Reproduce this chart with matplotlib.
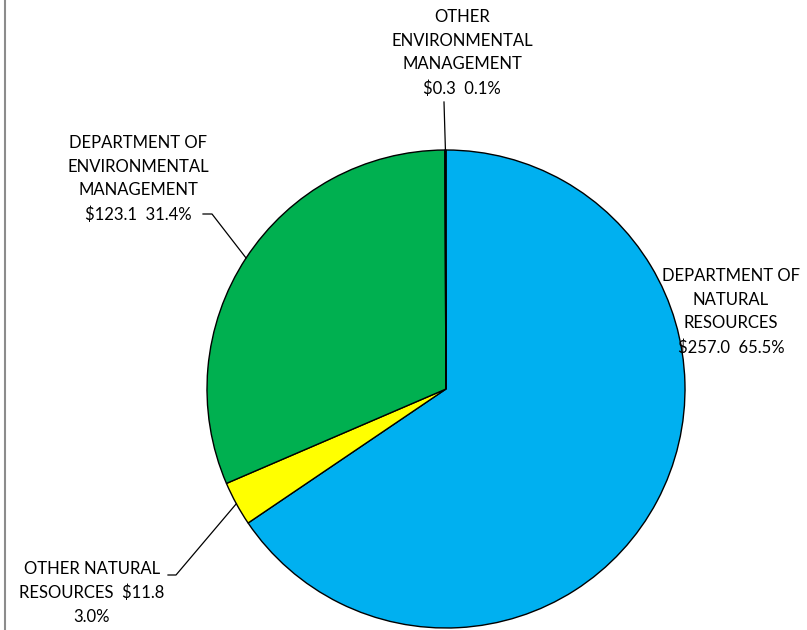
import matplotlib
matplotlib.use("Agg")
import matplotlib.pyplot as plt
import numpy as np
from matplotlib.lines import Line2D

# agency budget shares ($ millions)
names = ["DEPARTMENT OF\nNATURAL\nRESOURCES",
         "OTHER NATURAL\nRESOURCES",
         "DEPARTMENT OF\nENVIRONMENTAL\nMANAGEMENT",
         "OTHER\nENVIRONMENTAL\nMANAGEMENT"]
amounts = [257.0, 11.8, 123.1, 0.3]
colors = ["#00B0F0", "#FFFF00", "#00B050", "#1a1a1a"]

plt.rcParams['font.family'] = ['Lato', 'DejaVu Sans']

W, H = 807, 630
fig = plt.figure(figsize=(W / 100, H / 100), dpi=100)
ax = fig.add_axes([0, 0, 1, 1])

cx, cy, r = 446, H - 389, 239
wedges, _ = ax.pie(amounts, colors=colors, startangle=90, counterclock=False,
                   center=(cx, cy), radius=r, frame=True,
                   wedgeprops=dict(edgecolor="black", linewidth=1.0))
ax.set_xlim(0, W)
ax.set_ylim(0, H)
ax.set_aspect("equal")
ax.axis("off")

total = sum(amounts)
pcts = [a / total * 100 for a in amounts]
labels = [
    f"{names[0]}\n${amounts[0]:.1f}  {pcts[0]:.1f}%",
    f"OTHER NATURAL\nRESOURCES  ${amounts[1]:.1f}\n{pcts[1]:.1f}%",
    f"{names[2]}\n${amounts[2]:.1f}  {pcts[2]:.1f}%",
    f"{names[3]}\n${amounts[3]:.1f}  {pcts[3]:.1f}%",
]

# label centres (pixels, y from top) and leader elbows
label_pos = [(731, 312), (92, 593), (138, 179), (462, 53)]
elbows = [None, [(168, 575), (176, 575)], [(203, 214), (212, 214)], [(444, 102), (444, 102)]]

fs = 12
for w, lab, (lx, ly), el in zip(wedges, labels, label_pos, elbows):
    ax.text(lx, H - ly, lab, ha="center", va="center", fontsize=fs,
            linespacing=1.58, color="black")
    if el is None:
        continue
    mid = np.deg2rad((w.theta1 + w.theta2) / 2)
    px, py = cx + r * np.cos(mid), cy + r * np.sin(mid)
    xs = [el[0][0], el[1][0], px]
    ys = [H - el[0][1], H - el[1][1], py]
    ax.plot(xs, ys, color="black", lw=0.9)

# thin grey frame line on the left
fig.add_artist(Line2D([4.5 / W, 4.5 / W], [0, 1], color="#8c8c8c", lw=1.5,
                      transform=fig.transFigure))

fig.savefig("out.png", dpi=100)
